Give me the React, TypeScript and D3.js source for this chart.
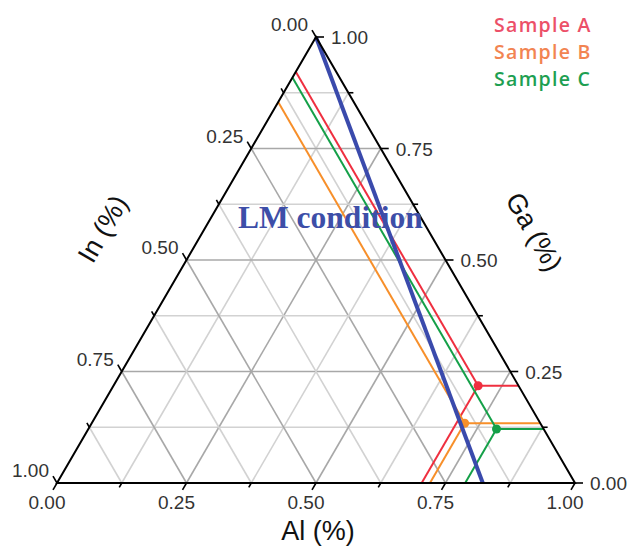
import { useMemo } from "react";
import { line, scaleLinear } from "d3";

const WIDTH = 631;
const HEIGHT = 550;

// barycentric frame: Al -> bottom right, In -> bottom left, Ga -> top
const BASE_LEFT = 57;
const BASE_RIGHT = 575;
const BASE_Y = 483;
const TOP_Y = 37;

const majorTicks = [0, 0.25, 0.5, 0.75, 1];
const minorTicks = [0.125, 0.375, 0.625, 0.875];
const tickLabels = ["0.00", "0.25", "0.50", "0.75", "1.00"];
const gridSteps = [0.125, 0.25, 0.375, 0.5, 0.625, 0.75, 0.875];

const samples = ["Sample A", "Sample B", "Sample C"];
const sampleAl = [0.704, 0.72, 0.788];
const sampleIn = [0.078, 0.146, 0.091];
const sampleGa = [0.218, 0.134, 0.121];
const sampleColors = ["#ef2f3f", "#f78f2a", "#14a048"];
const legendColors = ["#ec5068", "#f28452", "#1e9f52"];

// LM condition: from pure Ga down to the Al/In edge
const lmAl = [0, 0.822];
const lmIn = [0, 0.178];
const lmGa = [1, 0];

type Comp = [number, number, number];

export default function App() {
  const xScale = useMemo(() => scaleLinear().domain([0, 1]).range([BASE_LEFT, BASE_RIGHT]), []);
  const yScale = useMemo(() => scaleLinear().domain([0, 1]).range([BASE_Y, TOP_Y]), []);

  const project = (c: Comp): [number, number] => [xScale(c[0] + c[2] / 2), yScale(c[2])];
  const path = line<Comp>()
    .x((c) => project(c)[0])
    .y((c) => project(c)[1]);

  const gridLines = gridSteps.flatMap((v) => {
    const major = Math.abs((v * 4) % 1) < 1e-6;
    return [
      { d: path([[0, 1 - v, v], [1 - v, 0, v]]), major },
      { d: path([[v, 1 - v, 0], [v, 0, 1 - v]]), major },
      { d: path([[1 - v, v, 0], [0, v, 1 - v]]), major }
    ];
  });

  const triangle = path([[0, 1, 0], [1, 0, 0], [0, 0, 1], [0, 1, 0]]) + "Z";

  const tickFont = { fontFamily: "'Liberation Sans', Arial, sans-serif", fontSize: 19, fill: "#333" };

  const renderTicks = (values: number[], len: number) =>
    values.map((v) => {
      const [bx, by] = project([v, 1 - v, 0]);
      const [lx, ly] = project([0, v, 1 - v]);
      const [rx, ry] = project([1 - v, 0, v]);
      return (
        <g key={`t${v}`} stroke="#000" strokeWidth={1.6}>
          <line x1={bx} y1={by} x2={bx - len * 0.5} y2={by + len * 0.866} />
          <line x1={lx} y1={ly} x2={lx - len * 0.5} y2={ly - len * 0.866} />
          <line x1={rx} y1={ry} x2={rx + len} y2={ry} />
        </g>
      );
    });

  const lm = lmAl.map((a, i) => [a, lmIn[i], lmGa[i]] as Comp);

  return (
    <svg width={WIDTH} height={HEIGHT} style={{ position: "absolute", left: 0, top: 0, background: "#fff" }}>
      <g fill="none">
        {gridLines.map((g, i) => (
          <path key={i} d={g.d!} stroke={g.major ? "#a8a8a8" : "#d2d2d2"} strokeWidth={1.6} />
        ))}
      </g>

      {samples.map((s, i) => {
        const dot: Comp = [sampleAl[i], sampleIn[i], sampleGa[i]];
        const toLeft: Comp = [0, sampleIn[i], 1 - sampleIn[i]];
        const toRight: Comp = [1 - sampleGa[i], 0, sampleGa[i]];
        const toBottom: Comp = [sampleAl[i], 1 - sampleAl[i], 0];
        const [cx, cy] = project(dot);
        return (
          <g key={s} fill="none" stroke={sampleColors[i]} strokeWidth={2}>
            <path d={path([toLeft, dot])!} />
            <path d={path([dot, toRight])!} />
            <path d={path([dot, toBottom])!} />
            <circle cx={cx} cy={cy} r={4.5} fill={sampleColors[i]} stroke="none" />
          </g>
        );
      })}

      <path d={path(lm)!} fill="none" stroke="#3a4aac" strokeWidth={4} />

      <path d={triangle} fill="none" stroke="#000" strokeWidth={2} strokeLinejoin="miter" />
      {renderTicks(majorTicks, 8)}
      {renderTicks(minorTicks, 5)}

      <g style={tickFont}>
        {majorTicks.map((v, i) => {
          const [bx, by] = project([v, 1 - v, 0]);
          const [lx, ly] = project([0, v, 1 - v]);
          const [rx, ry] = project([1 - v, 0, v]);
          return (
            <g key={`l${v}`}>
              <text x={bx - 10} y={by + 26} textAnchor="middle">{tickLabels[i]}</text>
              <text x={lx - 8} y={ly - 6} textAnchor="end">{tickLabels[i]}</text>
              <text x={rx + 15} y={ry + 7} textAnchor="start">{tickLabels[i]}</text>
            </g>
          );
        })}
      </g>

      <g style={{ fontFamily: "'Liberation Sans', Arial, sans-serif", fontSize: 27, fill: "#111" }}>
        <text x={318} y={540} textAnchor="middle">Al (%)</text>
        <text x={0} y={0} textAnchor="middle" dominantBaseline="central" transform="translate(103,229) rotate(-60)">
          In (%)
        </text>
        <text x={0} y={0} textAnchor="middle" dominantBaseline="central" transform="translate(534,232) rotate(60)">
          Ga (%)
        </text>
      </g>

      <text x={238} y={228} fill="#3d4ea8" style={{ fontFamily: "'Liberation Serif', serif", fontWeight: 700, fontSize: 31.5 }}>
        LM condition
      </text>

      <g style={{ fontFamily: "'Open Sans', sans-serif", fontWeight: 600, fontSize: 19.5, letterSpacing: 1.3 }}>
        {samples.map((s, i) => (
          <text key={s} x={494} y={32 + i * 27} fill={legendColors[i]}>
            {s}
          </text>
        ))}
      </g>
    </svg>
  );
}
